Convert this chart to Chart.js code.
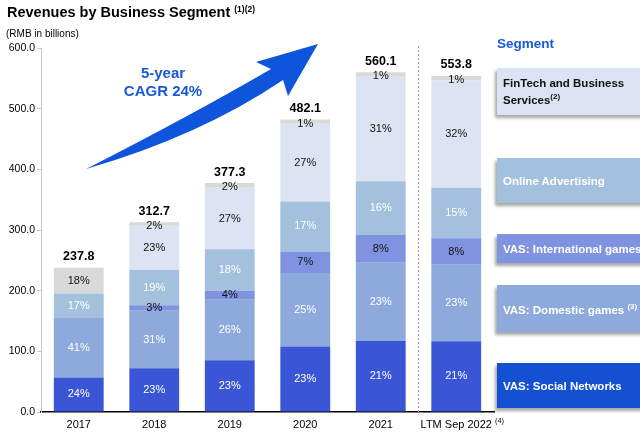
<!DOCTYPE html>
<html>
<head>
<meta charset="utf-8">
<script src="https://cdn.jsdelivr.net/npm/chart.js@4"></script>
<style>
  html, body { margin: 0; padding: 0; background: #fff; }
  body { width: 640px; height: 432px; position: relative; overflow: hidden; font-family: "Liberation Sans", Arial, sans-serif; }
  #wrap { position: absolute; left: 0; top: 0; width: 640px; height: 432px; }
  .abs { position: absolute; white-space: nowrap; }
  .title { left: 7px; top: 4px; font-size: 14.5px; font-weight: bold; color: #000; }
  .title sup { font-size: 8.5px; vertical-align: 5px; }
  .lg sup { font-size: 8px; vertical-align: 5px; }
  .unit { left: 6px; top: 28px; font-size: 10px; color: #000; }
  .cagr { left: 113px; top: 64px; width: 100px; text-align: center; font-size: 15px; line-height: 18px; font-weight: bold; color: #1a58d8; }
  .seg { left: 497px; top: 36px; font-size: 13.5px; font-weight: bold; color: #1a58d8; }
  .lg { left: 497px; width: 150px; box-sizing: border-box; padding-left: 6px; font-size: 11.5px; font-weight: bold; display: flex; align-items: center; box-shadow: -2px 3px 3px rgba(0,0,0,0.35); line-height: 14px; }
</style>
</head>
<body>
<div id="wrap"><canvas id="chart" width="640" height="432"></canvas></div>
<div class="abs title">Revenues by Business Segment <sup>(1)(2)</sup></div>
<div class="abs unit">(RMB in billions)</div>
<div class="abs cagr">5-year<br>CAGR 24%</div>
<div class="abs seg">Segment</div>
<div class="abs lg" style="top:68px;height:47px;background:#dce3f2;color:#111;"><span>FinTech and Business<br>Services<sup>(2)</sup></span></div>
<div class="abs lg" style="top:158px;height:45px;background:#a3c0dd;color:#fff;"><span>Online Advertising</span></div>
<div class="abs lg" style="top:234px;height:29px;background:#8093e0;color:#fff;"><span>VAS: International games</span></div>
<div class="abs lg" style="top:285px;height:47px;background:#8ea9db;color:#fff;"><span>VAS: Domestic games <sup>(3)</sup></span></div>
<div class="abs lg" style="top:363px;height:45px;background:#1450d2;color:#fff;"><span>VAS: Social Networks</span></div>
<script>
const categories = ["2017", "2018", "2019", "2020", "2021", "LTM Sep 2022"];
const socialNetworks = [57.0, 72.0, 85.2, 108.1, 117.2, 116.6];
const domesticGames = [97.9, 95.0, 100.0, 121.0, 128.9, 126.0];
const intlGames = [null, 9.0, 14.7, 35.6, 45.5, 44.0];
const onlineAdvertising = [40.4, 58.1, 68.4, 82.3, 88.7, 83.0];
const fintech = [null, 73.1, 101.4, 128.1, 172.2, 177.2];
const others = [42.5, 5.5, 7.6, 7.0, 7.6, 7.0];
const totals = [237.8, 312.7, 377.3, 482.1, 560.1, 553.8];

const socialPct = ["24%", "23%", "23%", "23%", "21%", "21%"];
const domesticPct = ["41%", "31%", "26%", "25%", "23%", "23%"];
const intlPct = [null, "3%", "4%", "7%", "8%", "8%"];
const advPct = ["17%", "19%", "18%", "17%", "16%", "15%"];
const fintechPct = [null, "23%", "27%", "27%", "31%", "32%"];
const othersPct = ["18%", "2%", "2%", "1%", "1%", "1%"];

const yTicks = [0, 100, 200, 300, 400, 500, 600];

const FONT = "'Liberation Sans', Arial, sans-serif";

const series = [
  { label: "VAS: Social Networks", data: socialNetworks, pct: socialPct, color: "#3a56d6", text: "#fff" },
  { label: "VAS: Domestic games", data: domesticGames, pct: domesticPct, color: "#8ea9db", text: "#fff" },
  { label: "VAS: International games", data: intlGames, pct: intlPct, color: "#8093e0", text: "#111" },
  { label: "Online Advertising", data: onlineAdvertising, pct: advPct, color: "#a3c0dd", text: "#fff" },
  { label: "FinTech and Business Services", data: fintech, pct: fintechPct, color: "#dce3f2", text: "#111" },
  { label: "Others", data: others, pct: othersPct, color: "#d9d9d9", text: "#111" }
];

const labelPlugin = {
  id: "segLabels",
  afterDatasetsDraw(chart) {
    const ctx = chart.ctx;
    ctx.save();
    ctx.textAlign = "center";
    ctx.textBaseline = "middle";
    chart.data.datasets.forEach((ds, di) => {
      const meta = chart.getDatasetMeta(di);
      meta.data.forEach((bar, i) => {
        const txt = series[di].pct[i];
        if (!txt || ds.data[i] == null) return;
        let y = (bar.y + bar.base) / 2;
        if (di === 5 && i > 0) y = bar.y + 4;
        ctx.font = "11px " + FONT;
        ctx.fillStyle = series[di].text;
        ctx.fillText(txt, bar.x, y);
      });
    });
    // totals above bars
    const topMeta = chart.getDatasetMeta(5);
    const yScale = chart.scales.y;
    topMeta.data.forEach((bar, i) => {
      ctx.font = "bold 12.5px " + FONT;
      ctx.fillStyle = "#000";
      ctx.fillText(totals[i].toFixed(1), bar.x, yScale.getPixelForValue(totals[i]) - 11);
    });
    // footnote mark on the LTM label
    const xs = chart.scales.x;
    ctx.font = "11px " + FONT;
    const w = ctx.measureText(categories[5]).width;
    ctx.font = "7.5px " + FONT;
    ctx.textAlign = "left";
    ctx.fillText("(4)", xs.getPixelForValue(5) + w / 2 + 3, chart.chartArea.bottom + 9);
    // dashed divider before LTM
    const xd = (xs.getPixelForValue(4) + xs.getPixelForValue(5)) / 2;
    ctx.strokeStyle = "#9a9a9a";
    ctx.lineWidth = 1;
    ctx.setLineDash([2, 2]);
    ctx.beginPath();
    ctx.moveTo(xd, chart.chartArea.top - 2);
    ctx.lineTo(xd, chart.chartArea.bottom);
    ctx.stroke();
    ctx.setLineDash([]);
    // growth arrow
    ctx.fillStyle = "#0e55dc";
    ctx.beginPath();
    ctx.moveTo(86, 169);
    ctx.quadraticCurveTo(190, 116, 271, 69);
    ctx.lineTo(256, 62);
    ctx.lineTo(318, 44);
    ctx.lineTo(288, 96);
    ctx.lineTo(283, 80);
    ctx.quadraticCurveTo(200, 136, 86, 169);
    ctx.closePath();
    ctx.fill();
    ctx.restore();
  }
};

new Chart(document.getElementById("chart"), {
  type: "bar",
  data: {
    labels: categories,
    datasets: series.map(s => ({
      label: s.label,
      data: s.data,
      backgroundColor: s.color,
      borderWidth: 0,
      barPercentage: 0.66,
      categoryPercentage: 1.0
    }))
  },
  options: {
    responsive: false,
    animation: false,
    layout: { padding: { top: 48, right: 146, bottom: 0, left: 0 } },
    plugins: { legend: { display: false }, tooltip: { enabled: false } },
    scales: {
      x: {
        stacked: true,
        afterFit(scale) { scale.height = 20; },
        grid: { display: false, drawTicks: false },
        border: { color: "#000", width: 1.5 },
        ticks: {
          color: "#000",
          font: { family: FONT, size: 11 },
          maxRotation: 0,
          padding: 6
        }
      },
      y: {
        stacked: true,
        min: 0,
        max: 600,
        afterFit(scale) { scale.width = 41; },
        afterBuildTicks(scale) { scale.ticks = yTicks.map(v => ({ value: v })); },
        grid: { drawOnChartArea: false, drawTicks: true, tickLength: 4, color: "#c8c8c8" },
        border: { color: "#c8c8c8", width: 1 },
        ticks: {
          color: "#000",
          font: { family: FONT, size: 10.5 },
          padding: 2,
          callback: v => v.toFixed(1)
        }
      }
    }
  },
  plugins: [labelPlugin]
});
</script>
</body>
</html>
